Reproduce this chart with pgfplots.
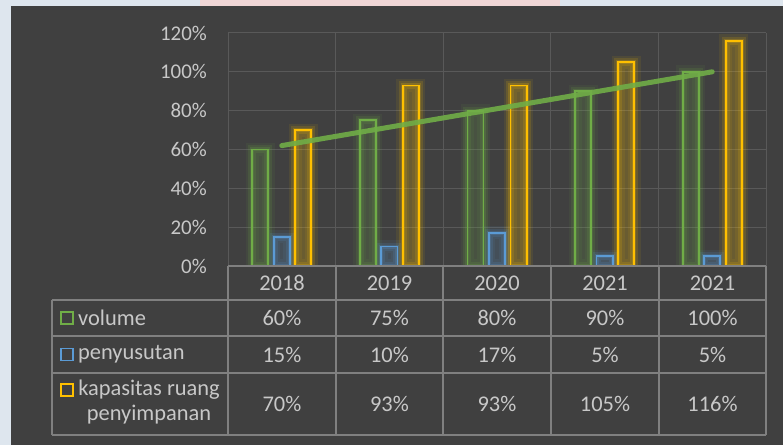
\documentclass[border=0pt]{standalone}
\usepackage{fontspec}
\setmainfont{Carlito}
\usepackage{pgfplots}
\pgfplotsset{compat=1.18}
\definecolor{panel}{HTML}{404040}
\definecolor{gridc}{HTML}{595959}
\definecolor{tablec}{HTML}{808080}
\definecolor{txt}{HTML}{C8C8C8}
\definecolor{cgreen}{HTML}{70AD47}
\definecolor{cblue}{HTML}{5B9BD5}
\definecolor{cyellow}{HTML}{FFC000}
\begin{document}
\begin{tikzpicture}[x=1bp,y=1bp]
\fill[color={rgb,255:red,222;green,230;blue,238}] (0,0) rectangle (783,445);
\fill[color={rgb,255:red,240;green,214;blue,214}] (200,439) rectangle (560,445);
\fill[panel] (11,0) rectangle (783,439);
\begin{axis}[
  at={(228bp,179bp)}, anchor=south west,
  scale only axis, width=538bp, height=233bp,
  xmin=-0.5, xmax=4.5, ymin=0, ymax=120,
  xtick={-0.5,0.5,1.5,2.5,3.5,4.5}, xticklabels={},
  ytick={0,20,40,60,80,100,120},
  yticklabel={\pgfmathprintnumber{\tick}\%},
  /pgf/number format/assume math mode=true,
  major tick length=0pt,
  xmajorgrids, ymajorgrids,
  grid style={gridc, line width=1bp},
  axis line style={draw=none},
  yticklabel style={anchor=east, inner sep=0pt, xshift=-21bp, text=txt, font=\fontsize{21}{25}\selectfont},
]
% glow layers
\addplot[ybar, bar width=0.15, bar shift=-0.2, draw=cgreen, line width=13bp, draw opacity=0.08, fill=none] coordinates {(0,60) (1,75) (2,80) (3,90) (4,100)};
\addplot[ybar, bar width=0.15, bar shift=0, draw=cblue, line width=13bp, draw opacity=0.08, fill=none] coordinates {(0,15) (1,10) (2,17) (3,5) (4,5)};
\addplot[ybar, bar width=0.15, bar shift=0.2, draw=cyellow, line width=13bp, draw opacity=0.08, fill=none] coordinates {(0,70) (1,93) (2,93) (3,105) (4,116)};
\addplot[ybar, bar width=0.15, bar shift=-0.2, draw=cgreen, line width=8bp, draw opacity=0.14, fill=none] coordinates {(0,60) (1,75) (2,80) (3,90) (4,100)};
\addplot[ybar, bar width=0.15, bar shift=0, draw=cblue, line width=8bp, draw opacity=0.14, fill=none] coordinates {(0,15) (1,10) (2,17) (3,5) (4,5)};
\addplot[ybar, bar width=0.15, bar shift=0.2, draw=cyellow, line width=8bp, draw opacity=0.14, fill=none] coordinates {(0,70) (1,93) (2,93) (3,105) (4,116)};
\addplot[ybar, bar width=0.15, bar shift=-0.2, draw=cgreen, line width=4bp, draw opacity=0.2, fill=none] coordinates {(0,60) (1,75) (2,80) (3,90) (4,100)};
\addplot[ybar, bar width=0.15, bar shift=0, draw=cblue, line width=4bp, draw opacity=0.2, fill=none] coordinates {(0,15) (1,10) (2,17) (3,5) (4,5)};
\addplot[ybar, bar width=0.15, bar shift=0.2, draw=cyellow, line width=4bp, draw opacity=0.2, fill=none] coordinates {(0,70) (1,93) (2,93) (3,105) (4,116)};
% main bars
\addplot[ybar, bar width=0.15, bar shift=-0.2, draw=cgreen, line width=1.8bp, fill=cgreen, fill opacity=0.17] coordinates {(0,60) (1,75) (2,80) (3,90) (4,100)};
\addplot[ybar, bar width=0.15, bar shift=0, draw=cblue, line width=1.8bp, fill=cblue, fill opacity=0.17] coordinates {(0,15) (1,10) (2,17) (3,5) (4,5)};
\addplot[ybar, bar width=0.15, bar shift=0.2, draw=cyellow, line width=1.8bp, fill=cyellow, fill opacity=0.22] coordinates {(0,70) (1,93) (2,93) (3,105) (4,116)};
% linear trendline of volume
\addplot[cgreen, line width=5bp, opacity=0.9, line cap=round, mark=none] coordinates {(0,62) (4,100)};
\end{axis}
% data table
\begin{scope}[tablec, line width=1.6bp]
\draw (228,179) -- (766,179);
\foreach \yy in {145,109,72,10} \draw (52,\yy) -- (766,\yy);
\draw (52,145) -- (52,10);
\foreach \xx in {228,336,443,551,659,766} \draw (\xx,179) -- (\xx,10);
\end{scope}
\begin{scope}[every node/.style={text=txt, font=\fontsize{22.5}{26}\selectfont, inner sep=0pt}]
\foreach \xx/\lab in {282/2018,389.5/2019,497/2020,605/2021,712.5/2021} \node at (\xx,162) {\lab};
\foreach \xx/\lab in {282/60\%,389.5/75\%,497/80\%,605/90\%,712.5/100\%} \node at (\xx,127) {\lab};
\foreach \xx/\lab in {282/15\%,389.5/10\%,497/17\%,605/5\%,712.5/5\%} \node at (\xx,90.5) {\lab};
\foreach \xx/\lab in {282/70\%,389.5/93\%,497/93\%,605/105\%,712.5/116\%} \node at (\xx,41) {\lab};
\node[anchor=west] at (78,127) {volume};
\node[anchor=west] at (78,90.5) {penyusutan};
\node at (149,55) {kapasitas ruang};
\node at (149,30) {penyimpanan};
\end{scope}
\draw[cgreen, line width=1.5bp] (61,121) rectangle (73,133);
\draw[cblue, line width=1.5bp] (61,84.5) rectangle (73,96.5);
\draw[cyellow, line width=1.5bp] (61,49) rectangle (73,61);
\end{tikzpicture}
\end{document}
